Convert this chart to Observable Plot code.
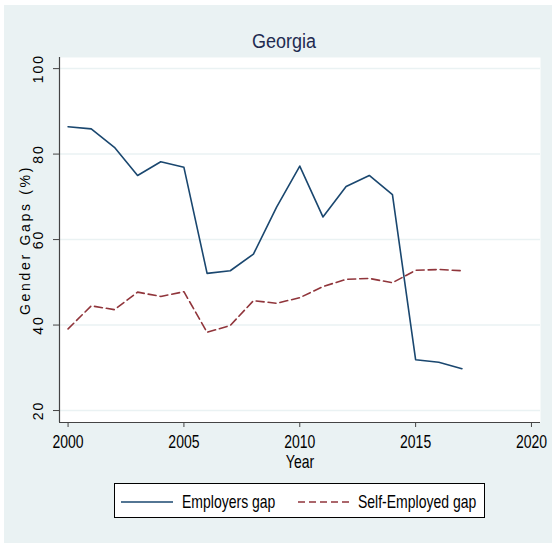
<!DOCTYPE html>
<html>
<head>
<meta charset="utf-8">
<script src="https://cdn.jsdelivr.net/npm/d3@7"></script>
<script src="https://cdn.jsdelivr.net/npm/@observablehq/plot@0.6"></script>
<style>
  html, body { margin: 0; padding: 0; background: #ffffff; }
  #fig { position: relative; width: 552px; height: 543px; background: #ffffff; overflow: hidden;
         font-family: "Liberation Sans", Arial, Helvetica, sans-serif; }
  #bg { position: absolute; left: 4px; top: 5px; right: 0; bottom: 0; background: #eaf2f3; }
  #plot { position: absolute; left: 0; top: 0; }
  #title { position: absolute; left: 284px; top: 32px; transform: translateX(-50%) scaleY(1.17);
           transform-origin: 50% 50%;
           font-size: 18px; line-height: 18px; color: #1e2b50; white-space: nowrap; }
  #legend { position: absolute; left: 114px; top: 483px; width: 369px; height: 33px;
            background: #ffffff; border: 1px solid #000; box-sizing: content-box; }
  .sw { position: absolute; top: 16px; }
  .lt { position: absolute; top: 9px; font-size: 14px; line-height: 16px; color: #000; white-space: nowrap;
        transform: scaleY(1.3); transform-origin: 0 50%; }
</style>
</head>
<body>
<div id="fig">
  <div id="bg"></div>
  <div id="plot"></div>
  <div id="title"></div>
  <div id="legend"></div>
</div>
<script>
const chartTitle = "Georgia";
const xLabel = "Year";
const yLabel = "Gender Gaps (%)";
const years = [2000, 2001, 2002, 2003, 2004, 2005, 2006, 2007, 2008, 2009, 2010, 2011, 2012, 2013, 2014, 2015, 2016, 2017];
const employersGap = [86.4, 85.9, 81.6, 75.0, 78.2, 76.9, 52.1, 52.7, 56.6, 67.6, 77.2, 65.3, 72.4, 75.0, 70.5, 31.9, 31.3, 29.8];
const selfEmployedGap = [39.1, 44.5, 43.6, 47.7, 46.7, 47.8, 38.3, 39.9, 45.7, 45.1, 46.4, 49.0, 50.7, 50.9, 49.9, 52.8, 53.0, 52.7];
const seriesNames = ["Employers gap", "Self-Employed gap"];
const seriesColors = ["#1a476f", "#90353b"];
const xTicks = [2000, 2005, 2010, 2015, 2020];
const yTicks = [20, 40, 60, 80, 100];

const xDomain = [1999.63, 2020.39];
const yDomain = [17.2, 102.6];

const rows = [];
years.forEach((yr, i) => {
  rows.push({year: yr, value: employersGap[i], series: seriesNames[0]});
  rows.push({year: yr, value: selfEmployedGap[i], series: seriesNames[1]});
});

const font = '"Liberation Sans", Arial, Helvetica, sans-serif';

const chart = Plot.plot({
  width: 552,
  height: 480,
  marginLeft: 59,
  marginRight: 12,
  marginTop: 57,
  marginBottom: 58,
  style: {background: "transparent", fontFamily: font, fontSize: "14px", color: "#000"},
  x: {domain: xDomain},
  y: {domain: yDomain},
  marks: [
    Plot.frame({fill: "white", stroke: null}),
    Plot.gridY(yTicks, {stroke: "#eaf2f3", strokeOpacity: 1, strokeWidth: 1.5}),
    Plot.axisY({ticks: yTicks, tickSize: 6, tickFormat: () => "", stroke: "#444", label: null}),
    Plot.text(yTicks, {y: d => d, text: d => String(d), frameAnchor: "left", dx: -21, rotate: -90,
      fontSize: 14, fill: "#000", lineAnchor: "middle", textAnchor: "middle"}),
    Plot.axisX({ticks: xTicks, tickSize: 5, tickPadding: 8, tickFormat: "d", stroke: "#444", fill: "#000", fontSize: 14, label: null}),
    Plot.text([xLabel], {frameAnchor: "bottom", dy: 40, fontSize: 14, fill: "#000", lineAnchor: "middle", textAnchor: "middle"}),
    Plot.text([yLabel], {frameAnchor: "left", dx: -34, rotate: -90, fontSize: 14, fill: "#000",
      lineAnchor: "middle", textAnchor: "middle"}),
    Plot.ruleX([xDomain[0]], {stroke: "#444", strokeWidth: 1.2}),
    Plot.ruleY([yDomain[0]], {stroke: "#444", strokeWidth: 1.2}),
    Plot.line(rows.filter(d => d.series === seriesNames[0]), {x: "year", y: "value", stroke: seriesColors[0], strokeWidth: 1.6}),
    Plot.line(rows.filter(d => d.series === seriesNames[1]), {x: "year", y: "value", stroke: seriesColors[1], strokeWidth: 1.6, strokeDasharray: "8,4"})
  ]
});
// Stata-like text rendering: rotated text is letter-spaced, horizontal text is tall/condensed
d3.select(chart).selectAll("text").each(function() {
  const el = d3.select(this);
  const tr = el.attr("transform") || "";
  const ptr = d3.select(this.parentNode).attr("transform") || "";
  const txt = this.textContent;
  if (tr.includes("rotate") || ptr.includes("rotate")) {
    el.style("letter-spacing", txt === yLabel ? "2.7px" : "2px");
  } else if (tr.includes("translate")) {
    el.attr("transform", tr + " scale(1,1.3)");
  }
});
document.getElementById("plot").appendChild(chart);
document.getElementById("title").textContent = chartTitle;

const legend = document.getElementById("legend");
const items = [
  {name: seriesNames[0], color: seriesColors[0], dash: null, sx: 6, tx: 67},
  {name: seriesNames[1], color: seriesColors[1], dash: "7,4", sx: 183, tx: 243}
];
items.forEach(it => {
  const ns = "http://www.w3.org/2000/svg";
  const svg = document.createElementNS(ns, "svg");
  svg.setAttribute("width", 52); svg.setAttribute("height", 4);
  svg.setAttribute("class", "sw");
  svg.style.left = it.sx + "px";
  const ln = document.createElementNS(ns, "line");
  ln.setAttribute("x1", 0); ln.setAttribute("x2", 52); ln.setAttribute("y1", 2); ln.setAttribute("y2", 2);
  ln.setAttribute("stroke", it.color); ln.setAttribute("stroke-width", 1.6);
  if (it.dash) ln.setAttribute("stroke-dasharray", it.dash);
  svg.appendChild(ln);
  legend.appendChild(svg);
  const t = document.createElement("div");
  t.className = "lt"; t.style.left = it.tx + "px"; t.textContent = it.name;
  legend.appendChild(t);
});
</script>
</body>
</html>
